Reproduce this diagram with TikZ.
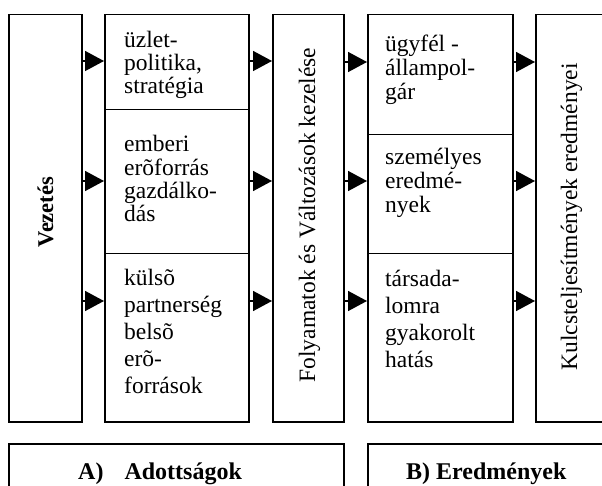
\documentclass[tikz,border=0pt]{standalone}
\usepackage{fontspec}
\setmainfont{Liberation Serif}
\newfontfamily\plainserif{Liberation Serif}
\usetikzlibrary{arrows.meta}
\begin{document}
\begin{tikzpicture}[x=1pt,y=-1pt,
  box/.style={draw, line width=1.5pt, rectangle, inner sep=0pt, anchor=north west},
  arr/.style={line width=1.5pt, -{Triangle[length=19pt,width=20pt]}},
  txt/.style={anchor=base west, inner sep=0pt, font=\fontsize{23.5}{#1}\selectfont},
  vtxt/.style={anchor=base, inner sep=0pt, rotate=90, font=\fontsize{23.5}{26}\selectfont},
  lbl/.style={anchor=base west, inner sep=0pt, font=\plainserif\bfseries\fontsize{24}{28}\selectfont}]
\clip (0,0) rectangle (602,486);
% columns
\node[box, minimum width=73pt, minimum height=407pt] (vez) at (8,14) {};
\node[box, minimum width=144pt, minimum height=95pt] (c2a) at (104,14) {};
\node[box, minimum width=144pt, minimum height=144pt] (c2b) at (104,109) {};
\node[box, minimum width=144pt, minimum height=168pt] (c2c) at (104,253) {};
\node[box, minimum width=71pt, minimum height=407pt] (fol) at (272,14) {};
\node[box, minimum width=145pt, minimum height=120pt] (c4a) at (367,14) {};
\node[box, minimum width=145pt, minimum height=119pt] (c4b) at (367,134) {};
\node[box, minimum width=145pt, minimum height=168pt] (c4c) at (367,253) {};
\node[box, minimum width=100pt, minimum height=407pt] (kul) at (535,14) {};
\node[box, minimum width=335pt, minimum height=70pt] (boxa) at (8,443) {};
\node[box, minimum width=260pt, minimum height=70pt] (boxb) at (367,443) {};
% rotated labels
\node[vtxt, font=\plainserif\bfseries\fontsize{22.5}{24}\selectfont] (tvez) at (53,212) {Vezetés};
\node[vtxt] (tfol) at (315,215) {Folyamatok és Változások kezelése};
\node[vtxt] (tkul) at (577,217) {Kulcsteljesítmények eredményei};
% box texts
\node[txt=22] (t2a) at (124,48) {\begin{tabular}[t]{@{}l@{}}üzlet-\\politika,\\stratégia\end{tabular}};
\node[txt=23] (t2b) at (124,152) {\begin{tabular}[t]{@{}l@{}}emberi\\erõforrás\\gazdálko-\\dás\end{tabular}};
\node[txt=27] (t2c) at (124,286) {\begin{tabular}[t]{@{}l@{}}külsõ\\partnerség\\belsõ\\erõ-\\források\end{tabular}};
\node[txt=24] (t4a) at (385,52) {\begin{tabular}[t]{@{}l@{}}ügyfél -\\állampol-\\gár\end{tabular}};
\node[txt=24] (t4b) at (385,165) {\begin{tabular}[t]{@{}l@{}}személyes\\eredmé-\\nyek\end{tabular}};
\node[txt=27] (t4c) at (385,287) {\begin{tabular}[t]{@{}l@{}}társada-\\lomra\\gyakorolt\\hatás\end{tabular}};
% bottom labels
\node[lbl] (la) at (78,479) {A)\hspace{21pt}Adottságok};
\node[lbl] (lb) at (406,479) {B) Eredmények};
% arrows
\draw[arr] (vez.east |- 0,61) -- (c2a.west |- 0,61);
\draw[arr] (vez.east |- 0,181) -- (c2b.west |- 0,181);
\draw[arr] (vez.east |- 0,301) -- (c2c.west |- 0,301);
\draw[arr] (c2a.east |- 0,61) -- (fol.west |- 0,61);
\draw[arr] (c2b.east |- 0,181) -- (fol.west |- 0,181);
\draw[arr] (c2c.east |- 0,301) -- (fol.west |- 0,301);
\draw[arr] (fol.east |- 0,62) -- (c4a.west |- 0,62);
\draw[arr] (fol.east |- 0,181) -- (c4b.west |- 0,181);
\draw[arr] (fol.east |- 0,301) -- (c4c.west |- 0,301);
\draw[arr] (c4a.east |- 0,62) -- (kul.west |- 0,62);
\draw[arr] (c4b.east |- 0,181) -- (kul.west |- 0,181);
\draw[arr] (c4c.east |- 0,301) -- (kul.west |- 0,301);
\end{tikzpicture}
\end{document}
